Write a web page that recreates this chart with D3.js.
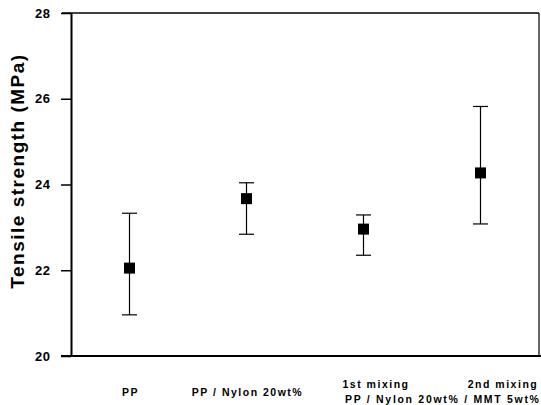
<!DOCTYPE html>
<html>
<head>
<meta charset="utf-8">
<script src="https://cdn.jsdelivr.net/npm/d3@7"></script>
<style>
  html, body { margin: 0; padding: 0; background: #fff; }
  svg { display: block; }
  text { font-family: "Liberation Sans", Arial, sans-serif; font-weight: bold; fill: #000; }
</style>
</head>
<body>
<svg id="chart" width="541" height="405"></svg>
<script>
// Tensile strength of each sample: mean with lower/upper error limits (MPa)
const categories = ["PP", "PP / Nylon 20wt%", "1st mixing", "2nd mixing"];
const meanValues = [22.05, 23.67, 22.96, 24.27];
const lowerValues = [20.96, 22.84, 22.35, 23.08];
const upperValues = [23.33, 24.04, 23.29, 25.82];
const yTicks = [20, 22, 24, 26, 28];

const margin = { left: 71, right: 2, top: 13, bottom: 49 };
const W = 541, H = 405;
const svg = d3.select("#chart");

const x = d3.scalePoint()
  .domain(categories)
  .range([margin.left, W - margin.right])
  .padding(0.5);

const y = d3.scaleLinear()
  .domain([20, 28])
  .range([H - margin.bottom, margin.top]);

// Frame lines (top and right)
svg.append("line")
  .attr("x1", margin.left - 9).attr("x2", W - margin.right)
  .attr("y1", y(28)).attr("y2", y(28))
  .attr("stroke", "#000").attr("stroke-width", 1.5);
svg.append("line")
  .attr("x1", W - margin.right).attr("x2", W - margin.right)
  .attr("y1", y(28)).attr("y2", y(20))
  .attr("stroke", "#000").attr("stroke-width", 1.2);
// Bottom line
svg.append("line")
  .attr("x1", margin.left - 10).attr("x2", W)
  .attr("y1", y(20)).attr("y2", y(20))
  .attr("stroke", "#000").attr("stroke-width", 2);

// Y axis
const yAxis = svg.append("g")
  .attr("transform", `translate(${margin.left},0)`)
  .call(d3.axisLeft(y).tickValues(yTicks).tickSize(10).tickPadding(11).tickSizeOuter(0));
yAxis.select(".domain").attr("stroke-width", 2);
yAxis.selectAll(".tick line").attr("stroke-width", 1.5);
yAxis.selectAll(".tick text")
  .style("font-size", "13px")
  .style("letter-spacing", "0.5px")
  .attr("dx", "0.5px");

// Y axis title
svg.append("text")
  .attr("transform", `translate(24,171) rotate(-90)`)
  .attr("text-anchor", "middle")
  .style("font-size", "19px")
  .style("letter-spacing", "1.5px")
  .text("Tensile strength (MPa)");

// Error bars
const capHalf = 7.5;
const g = svg.append("g");
categories.forEach((c, i) => {
  const cx = x(c);
  g.append("line")
    .attr("x1", cx).attr("x2", cx)
    .attr("y1", y(lowerValues[i])).attr("y2", y(upperValues[i]))
    .attr("stroke", "#000").attr("stroke-width", 1.2);
  [lowerValues[i], upperValues[i]].forEach(v => {
    g.append("line")
      .attr("x1", cx - capHalf).attr("x2", cx + capHalf)
      .attr("y1", y(v)).attr("y2", y(v))
      .attr("stroke", "#000").attr("stroke-width", 1.2);
  });
});

// Mean markers
const s = 11;
g.selectAll("rect.mean")
  .data(categories)
  .join("rect")
  .attr("class", "mean")
  .attr("x", d => x(d) - s / 2)
  .attr("y", (d, i) => y(meanValues[i]) - s / 2)
  .attr("width", s).attr("height", s)
  .attr("fill", "#000");

// Category labels
const labelStyle = sel => sel.style("font-size", "10.5px").style("letter-spacing", "1.5px");
svg.append("text").attr("x", x(categories[0]) + 1).attr("y", 396)
  .attr("text-anchor", "middle").call(labelStyle).text(categories[0]);
svg.append("text").attr("x", x(categories[1]) + 1).attr("y", 396)
  .attr("text-anchor", "middle").call(labelStyle).text(categories[1]);
svg.append("text").attr("x", 376).attr("y", 388)
  .attr("text-anchor", "middle").call(labelStyle).text(categories[2]);
svg.append("text").attr("x", 503).attr("y", 388)
  .attr("text-anchor", "middle").call(labelStyle).text(categories[3]);
svg.append("text").attr("x", 345).attr("y", 403)
  .attr("text-anchor", "start").call(labelStyle)
  .style("letter-spacing", "1.7px")
  .text("PP / Nylon 20wt% / MMT 5wt%");
</script>
</body>
</html>
